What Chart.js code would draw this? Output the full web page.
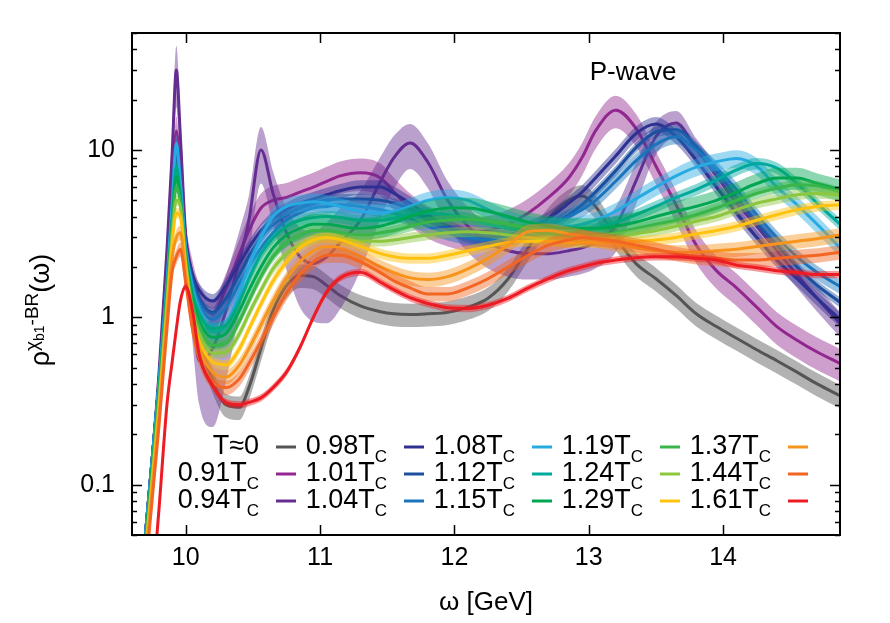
<!DOCTYPE html>
<html>
<head>
<meta charset="utf-8">
<script src="https://cdn.jsdelivr.net/npm/chart.js@4.4.1/dist/chart.umd.min.js"></script>
<style>
  html, body { margin: 0; padding: 0; background: #fff; }
  #wrap { width: 890px; height: 623px; }
</style>
</head>
<body>
<div id="wrap"><canvas id="chart" width="890" height="623"></canvas></div>
<script>
'use strict';

/* ── DATA ──────────────────────────────────── */
const omega = [9.6, 9.7, 9.8, 9.86, 9.9, 9.93, 9.96, 10.0, 10.05, 10.1,
  10.2, 10.3, 10.4, 10.47, 10.56, 10.65, 10.75, 10.85, 10.95, 11.05,
  11.15, 11.3, 11.45, 11.55, 11.67, 11.8, 11.95, 12.1, 12.25, 12.4,
  12.55, 12.7, 12.85, 12.95, 13.05, 13.2, 13.35, 13.5, 13.65, 13.8,
  13.95, 14.1, 14.25, 14.4, 14.55, 14.7, 14.87];

const t0   = [0.008, 0.05, 0.4, 1.6, 4.5, 9, 5.5, 2.4, 1.2, 0.75,
  0.42, 0.3, 0.29, 0.38, 0.65, 1.1, 1.55, 1.78, 1.75, 1.55,
  1.35, 1.17, 1.08, 1.05, 1.04, 1.05, 1.07, 1.15, 1.3, 1.7,
  2.6, 3.9, 5.0, 5.3, 4.6, 3.0, 2.1, 1.7, 1.35, 1.05,
  0.88, 0.75, 0.64, 0.55, 0.47, 0.4, 0.34];
const t091 = [0.008, 0.05, 0.4, 1.8, 5.5, 13, 7, 3.0, 1.8, 1.3,
  1.05, 1.5, 2.4, 3.3, 4.5, 5.0, 5.2, 5.6, 6.0, 6.5,
  7.0, 7.3, 6.8, 5.6, 4.5, 3.8, 3.4, 3.2, 3.3, 3.6,
  4.2, 5.2, 6.8, 9.0, 13, 17.3, 13.5, 8.0, 4.7, 2.7,
  1.9, 1.5, 1.15, 0.88, 0.73, 0.62, 0.53];
const t094 = [0.008, 0.05, 0.45, 2.5, 10, 30, 12, 3.0, 1.2, 0.55,
  0.65, 1.1, 2.2, 3.8, 10, 5.5, 3.2, 2.3, 2.1, 2.3,
  2.8, 3.8, 6.5, 9.0, 11, 8.5, 5.0, 3.5, 2.8, 2.5,
  2.4, 2.4, 2.5, 2.6, 2.8, 3.5, 6.5, 12, 14.5, 10,
  7.0, 4.8, 3.5, 2.5, 1.8, 1.3, 0.92];
const t098 = [0.008, 0.05, 0.4, 1.6, 4.8, 10.5, 6.0, 2.8, 1.8, 1.45,
  1.25, 1.55, 2.1, 2.6, 3.3, 3.9, 4.4, 4.8, 5.1, 5.4,
  5.7, 6.0, 6.0, 5.5, 4.8, 4.1, 3.5, 3.1, 3.0, 3.1,
  3.4, 3.9, 4.8, 5.6, 6.8, 9.2, 12.5, 14.3, 12, 8.7,
  6.0, 4.2, 3.0, 2.2, 1.7, 1.3, 0.97];
const t101 = [0.008, 0.05, 0.4, 1.6, 4.8, 10, 6, 2.7, 1.7, 1.3,
  1.07, 1.3, 1.8, 2.3, 3.0, 3.6, 4.1, 4.5, 4.8, 5.0,
  5.1, 5.1, 5.0, 4.8, 4.4, 3.9, 3.4, 3.1, 2.9, 2.9,
  3.1, 3.5, 4.1, 4.7, 5.6, 7.5, 10.3, 12.8, 13.2, 10.5,
  7.5, 5.2, 3.7, 2.7, 2.0, 1.55, 1.23];
const t104 = [0.008, 0.05, 0.4, 1.6, 4.8, 10, 6, 2.6, 1.6, 1.2,
  0.97, 1.15, 1.6, 2.0, 2.6, 3.2, 3.8, 4.2, 4.5, 4.6,
  4.7, 4.6, 4.4, 4.2, 3.9, 3.5, 3.2, 3.0, 2.9, 3.0,
  3.2, 3.6, 4.0, 4.4, 5.0, 6.5, 8.6, 10.8, 12, 10,
  7.8, 5.8, 4.1, 3.0, 2.3, 1.85, 1.53];
const t108 = [0.008, 0.05, 0.4, 1.6, 5.0, 11, 6.5, 2.6, 1.5, 1.1,
  0.82, 0.9, 1.4, 2.0, 3.0, 4.0, 4.6, 4.8, 4.9, 4.8,
  4.6, 4.3, 4.2, 4.3, 4.6, 5.0, 5.2, 5.0, 4.4, 3.9,
  3.6, 3.5, 3.5, 3.6, 3.8, 4.3, 5.1, 6.0, 7.0, 7.9,
  8.5, 8.9, 8.0, 6.0, 4.7, 3.6, 2.6];
const t112 = [0.007, 0.045, 0.35, 1.4, 4.0, 8, 5.5, 2.4, 1.4, 1.05,
  0.86, 0.9, 1.25, 1.7, 2.4, 3.0, 3.5, 3.8, 3.95, 4.0,
  3.95, 3.8, 3.8, 3.9, 4.1, 4.2, 4.1, 3.9, 3.6, 3.4,
  3.3, 3.2, 3.2, 3.3, 3.4, 3.7, 4.1, 4.6, 5.2, 5.8,
  6.6, 7.6, 8.3, 7.8, 6.3, 4.8, 3.6];
const t115 = [0.007, 0.045, 0.35, 1.4, 3.8, 7, 5, 2.3, 1.3, 0.95,
  0.76, 0.8, 1.1, 1.45, 2.0, 2.6, 3.1, 3.4, 3.6, 3.6,
  3.5, 3.4, 3.5, 3.7, 4.0, 4.3, 4.5, 4.5, 4.3, 4.0,
  3.7, 3.5, 3.4, 3.4, 3.4, 3.5, 3.7, 4.0, 4.3, 4.6,
  5.0, 5.6, 6.3, 6.8, 6.8, 6.3, 5.8];
const t119 = [0.007, 0.042, 0.33, 1.3, 3.5, 6, 4.8, 2.2, 1.2, 0.88,
  0.68, 0.7, 0.95, 1.25, 1.75, 2.3, 2.8, 3.1, 3.3, 3.3,
  3.2, 3.1, 3.2, 3.3, 3.5, 3.7, 3.8, 3.85, 3.75, 3.6,
  3.4, 3.2, 3.1, 3.1, 3.1, 3.2, 3.4, 3.6, 3.8, 4.1,
  4.5, 5.0, 5.5, 5.9, 6.2, 6.1, 5.6];
const t124 = [0.006, 0.04, 0.3, 1.2, 3.2, 5, 4.6, 2.1, 1.1, 0.8,
  0.61, 0.62, 0.8, 1.05, 1.45, 1.95, 2.4, 2.75, 2.95, 3.0,
  2.95, 2.85, 2.85, 2.9, 3.0, 3.1, 3.2, 3.25, 3.2, 3.1,
  3.0, 2.9, 2.85, 2.85, 2.9, 3.0, 3.15, 3.3, 3.5, 3.75,
  4.0, 4.4, 4.8, 5.1, 5.4, 5.5, 5.4];
const t129 = [0.006, 0.038, 0.28, 1.1, 2.8, 4.2, 4.0, 2.0, 1.0, 0.72,
  0.54, 0.52, 0.65, 0.85, 1.2, 1.65, 2.15, 2.6, 2.9, 3.0,
  2.9, 2.65, 2.4, 2.3, 2.25, 2.25, 2.35, 2.5, 2.65, 2.8,
  2.85, 2.85, 2.8, 2.8, 2.8, 2.8, 2.85, 2.9, 3.0, 3.15,
  3.3, 3.5, 3.8, 4.1, 4.4, 4.6, 4.7];
const t137 = [0.005, 0.035, 0.25, 1.0, 2.3, 3.0, 3.2, 1.8, 0.95, 0.65,
  0.47, 0.44, 0.52, 0.65, 0.9, 1.25, 1.7, 2.15, 2.5, 2.65,
  2.6, 2.3, 2.0, 1.85, 1.72, 1.68, 1.75, 1.95, 2.25, 2.7,
  3.25, 3.3, 3.15, 3.05, 2.9, 2.75, 2.6, 2.5, 2.45, 2.45,
  2.5, 2.55, 2.65, 2.75, 2.85, 2.95, 3.1];
const t144 = [0.005, 0.03, 0.22, 0.85, 1.9, 2.3, 2.55, 1.6, 0.85, 0.57,
  0.41, 0.38, 0.43, 0.53, 0.72, 1.0, 1.4, 1.8, 2.15, 2.35,
  2.35, 2.15, 1.85, 1.65, 1.5, 1.38, 1.38, 1.5, 1.7, 2.0,
  2.35, 2.7, 2.9, 3.0, 2.95, 2.85, 2.7, 2.55, 2.4, 2.3,
  2.25, 2.2, 2.2, 2.25, 2.3, 2.35, 2.45];
const t161 = [0.002, 0.008, 0.07, 0.3, 0.55, 0.85, 1.25, 1.53, 1.1, 0.6,
  0.39, 0.31, 0.3, 0.31, 0.33, 0.38, 0.47, 0.66, 1.0, 1.42,
  1.72, 1.86, 1.62, 1.46, 1.31, 1.21, 1.14, 1.13, 1.18, 1.3,
  1.5, 1.7, 1.9, 2.0, 2.1, 2.2, 2.27, 2.3, 2.3, 2.25,
  2.2, 2.05, 1.98, 1.9, 1.85, 1.8, 1.8];

// relative error band half-widths (0.94 T_C has its own, much wider band)
const bandFrac = [0.16, 0.22, null, 0.1, 0.07, 0.1, 0.12, 0.08, 0.15, 0.07, 0.07, 0.07, 0.1, 0.1, 0.05];
const band094 = [0.2, 0.2, 0.25, 0.3, 0.35, 0.4, 0.35, 0.3, 0.4, 0.45,
  0.66, 0.62, 0.5, 0.4, 0.37, 0.35, 0.4, 0.5, 0.55, 0.6,
  0.6, 0.5, 0.4, 0.35, 0.3, 0.3, 0.3, 0.3, 0.3, 0.3,
  0.3, 0.3, 0.3, 0.3, 0.3, 0.3, 0.28, 0.22, 0.18, 0.17,
  0.17, 0.17, 0.17, 0.17, 0.17, 0.17, 0.17];

const series = [t0, t091, t094, t098, t101, t104, t108, t112, t115, t119, t124, t129, t137, t144, t161];
const seriesLabels = ['T≈0', '0.91T_C', '0.94T_C', '0.98T_C', '1.01T_C', '1.04T_C', '1.08T_C', '1.12T_C',
  '1.15T_C', '1.19T_C', '1.24T_C', '1.29T_C', '1.37T_C', '1.44T_C', '1.61T_C'];
const seriesColors = ['#555555', '#92278f', '#662d91', '#2e3192', '#1c4fa0', '#1b75bc', '#27aae1', '#00a99d',
  '#00a651', '#39b54a', '#8dc63f', '#ffc20e', '#f7941d', '#f26522', '#ed1c24'];

const xTicks = [10, 11, 12, 13, 14];
const yTicks = [0.1, 1, 10];
const yTickLabels = ['0.1', '1', '10'];

const FONT = '"Liberation Sans", Arial, Helvetica, sans-serif';

/* ── HELPERS ───────────────────────────────── */
function rgba(hex, a) {
  const n = parseInt(hex.slice(1), 16);
  return `rgba(${n >> 16},${(n >> 8) & 255},${n & 255},${a})`;
}

function runs(ctx, parts, x, y) {
  // draws [text, size, dy] pieces one after another, returns end x
  parts.forEach(([t, size, dy]) => {
    ctx.font = `${size}px ${FONT}`;
    ctx.fillText(t, x, y + dy);
    x += ctx.measureText(t).width;
  });
  return x;
}

function runsWidth(ctx, parts) {
  return parts.reduce((w, [t, size]) => { ctx.font = `${size}px ${FONT}`; return w + ctx.measureText(t).width; }, 0);
}

/* ── DATASETS ──────────────────────────────── */
const datasets = [];
series.forEach((ys, i) => {
  const fr = bandFrac[i] === null ? band094 : ys.map(() => bandFrac[i]);
  const pts = f => omega.map((x, j) => ({ x, y: f(ys[j], fr[j]) }));
  const base = 1000 - 3 * i;
  datasets.push({ data: pts((y, e) => y * (1 + e)), fill: '+1', backgroundColor: rgba(seriesColors[i], 0.45),
    borderWidth: 0, pointRadius: 0, order: base, clip: 0 });
  datasets.push({ data: pts((y, e) => y * (1 - e)), fill: false, borderWidth: 0, pointRadius: 0, order: base - 1, clip: 0 });
  datasets.push({ data: pts(y => y), fill: false, borderColor: seriesColors[i], borderWidth: 3,
    pointRadius: 0, order: base - 2, clip: 0 });
});

/* ── FRAME + INWARD TICKS ──────────────────── */
const framePlugin = {
  id: 'frame',
  afterDatasetsDraw(chart) {
    const { ctx, chartArea: a, scales: { x, y } } = chart;
    ctx.save();
    ctx.strokeStyle = '#000';
    ctx.lineWidth = 1.5;
    ctx.beginPath();
    xTicks.forEach(v => {
      const px = Math.round(x.getPixelForValue(v)) + 0.5;
      ctx.moveTo(px, a.bottom); ctx.lineTo(px, a.bottom - 10);
      ctx.moveTo(px, a.top); ctx.lineTo(px, a.top + 10);
    });
    for (let k = -2; k <= 1; k++) {
      for (let m = 1; m <= 9; m++) {
        const v = m * Math.pow(10, k);
        if (v < y.min || v > y.max) continue;
        const py = Math.round(y.getPixelForValue(v)) + 0.5;
        const len = m === 1 ? 10 : 5;
        ctx.moveTo(a.left, py); ctx.lineTo(a.left + len, py);
        ctx.moveTo(a.right, py); ctx.lineTo(a.right - len, py);
      }
    }
    ctx.stroke();
    ctx.lineWidth = 2;
    ctx.strokeRect(a.left, a.top, a.right - a.left, a.bottom - a.top);
    ctx.restore();
  }
};

/* ── LEGEND, TITLES ────────────────────────── */
const textPlugin = {
  id: 'texts',
  afterDraw(chart) {
    const { ctx, chartArea: a } = chart;
    ctx.save();
    ctx.fillStyle = '#000';
    ctx.textBaseline = 'alphabetic';
    ctx.textAlign = 'left';

    // gnuplot style key: label, then sample line
    const cols = [276, 404, 532, 660, 788], rows = [447, 474, 501];
    seriesLabels.forEach((lab, i) => {
      const sx = cols[Math.floor(i / 3)], sy = rows[i % 3];
      const [main, sub] = lab.split('_');
      const parts = [[main, 27, 7]];
      if (sub) parts.push([sub, 17, 15]);
      runs(ctx, parts, sx - 17 - runsWidth(ctx, parts), sy);
      ctx.strokeStyle = seriesColors[i];
      ctx.lineWidth = 3;
      ctx.beginPath(); ctx.moveTo(sx, sy); ctx.lineTo(sx + 20, sy); ctx.stroke();
    });

    ctx.font = `26px ${FONT}`;
    ctx.textAlign = 'center';
    ctx.textBaseline = 'middle';
    ctx.fillText('P-wave', 633, 73);
    ctx.fillText('ω [GeV]', (a.left + a.right) / 2, 603);

    // y axis title, rotated
    const yParts = [['ρ', 27, 0], ['χ', 19, -11], ['b1', 14, -5], ['-BR', 19, -11], ['(ω)', 27, 0]];
    ctx.textAlign = 'left';
    ctx.textBaseline = 'alphabetic';
    ctx.translate(49, 310);
    ctx.rotate(-Math.PI / 2);
    runs(ctx, yParts, -runsWidth(ctx, yParts) / 2, 0);
    ctx.restore();
  }
};

/* ── CHART ─────────────────────────────────── */
new Chart(document.getElementById('chart'), {
  type: 'line',
  data: { datasets },
  options: {
    responsive: false,
    animation: false,
    devicePixelRatio: 1,
    layout: { padding: { top: 33, right: 50, left: 0, bottom: 0 } },
    elements: { line: { cubicInterpolationMode: 'monotone' } },
    plugins: { legend: { display: false }, tooltip: { enabled: false } },
    scales: {
      x: {
        type: 'linear', min: 9.6, max: 14.87,
        grid: { display: false, drawTicks: false }, border: { display: false },
        afterBuildTicks: s => { s.ticks = xTicks.map(v => ({ value: v })); },
        afterFit: s => { s.height = 88; },
        ticks: { font: { family: FONT, size: 25 }, color: '#000', padding: 8, maxRotation: 0, callback: v => String(v) }
      },
      y: {
        type: 'logarithmic', min: 0.05, max: 50,
        grid: { display: false, drawTicks: false }, border: { display: false },
        afterBuildTicks: s => { s.ticks = yTicks.map(v => ({ value: v })); },
        afterFit: s => { s.width = 132; },
        ticks: { font: { family: FONT, size: 25 }, color: '#000', padding: 17,
          callback: v => { const k = yTicks.indexOf(v); return k < 0 ? '' : yTickLabels[k]; } }
      }
    }
  },
  plugins: [framePlugin, textPlugin]
});
</script>
</body>
</html>
